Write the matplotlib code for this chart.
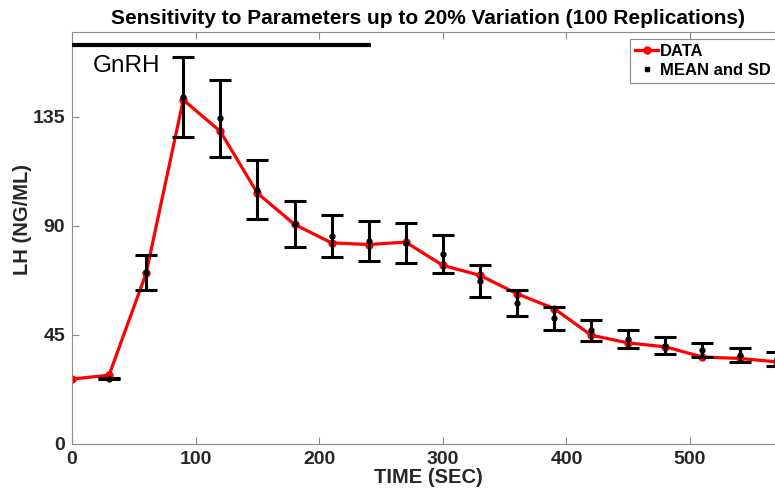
import numpy as np
import matplotlib
matplotlib.use('Agg')
import matplotlib.pyplot as plt
from matplotlib.lines import Line2D

plt.rcParams['font.family'] = ['Liberation Sans', 'DejaVu Sans']

# time points (sec)
t = [0, 30, 60, 90, 120, 150, 180, 210, 240, 270, 300, 330, 360, 390, 420, 450, 480, 510, 540, 570]
# observed LH data
lh_data = [26.8, 28.4, 70.5, 142.0, 129.0, 103.5, 90.6, 83.0, 82.3, 83.3, 73.7, 69.6, 62.0, 55.9,
           44.9, 41.7, 40.1, 35.9, 35.3, 33.9]
# model mean and sd (errorbars start at t=30)
t_mean = t[1:]
lh_mean = [27.0, 70.8, 143.1, 134.4, 105.0, 90.8, 85.8, 83.8, 82.9, 78.5, 67.3, 58.1, 51.8,
           46.9, 43.4, 40.6, 38.7, 36.7, 35.0]
lh_sd = [0.3, 7.1, 16.6, 15.9, 12.2, 9.6, 8.8, 8.3, 8.2, 7.8, 6.5, 5.4, 4.7,
         4.3, 3.8, 3.6, 3.0, 2.8, 2.9]

gnrh_span = [0, 242]
gnrh_level = 164.6

fig = plt.figure(figsize=(7.75, 4.95), dpi=100)
ax = fig.add_axes([72/775, 51/495, 712/775, 412/495])

ax.plot(t, lh_data, '-', color='#ff0000', lw=2.3, marker='.', ms=10, zorder=2)
ax.errorbar(t_mean, lh_mean, yerr=lh_sd, fmt='.', color='black', ms=7, ecolor='black',
            elinewidth=2.2, capsize=8, capthick=2.2, zorder=3)

ax.plot(gnrh_span, [gnrh_level, gnrh_level], color='black', lw=3, solid_capstyle='butt',
        clip_on=False, zorder=4)
ax.text(17, 153.7, 'GnRH', fontsize=17.5, color='black', ha='left', va='baseline')

ax.set_xlim(0, 576)
ax.set_ylim(0, 170)
ax.set_xticks([0, 100, 200, 300, 400, 500])
ax.set_yticks([0, 45, 90, 135])
ax.tick_params(direction='in', length=5, width=0.8, top=True, right=True,
               color='#8c8c8c', labelsize=14, labelcolor='#262626', pad=5)
for lab in ax.get_xticklabels() + ax.get_yticklabels():
    lab.set_fontweight('bold')
for sp in ax.spines.values():
    sp.set_color('#8c8c8c')
    sp.set_linewidth(0.8)

ax.set_xlabel('TIME (SEC)', fontsize=14.5, fontweight='bold', color='#262626', labelpad=0)
ax.set_ylabel('LH (NG/ML)', fontsize=14.5, fontweight='bold', color='#262626')
ax.yaxis.set_label_coords(-0.056, 0.544)
ax.set_title('Sensitivity to Parameters up to 20% Variation (100 Replications)',
             fontsize=15, fontweight='bold', pad=6)

handles = [Line2D([], [], color='#ff0000', lw=2.3, marker='.', ms=10),
           Line2D([], [], color='black', ls='none', marker='s', ms=3)]
leg = ax.legend(handles, ['DATA', 'MEAN and SD'], loc='upper left',
                bbox_to_anchor=(630/775, 1 - 39/495), bbox_transform=fig.transFigure,
                prop={'weight': 'bold', 'size': 12}, fancybox=False, framealpha=1,
                handlelength=1.4, handletextpad=0.1, borderpad=0.3, labelspacing=0.25,
                borderaxespad=0)
leg.get_frame().set_edgecolor('#8c8c8c')
leg.get_frame().set_linewidth(0.8)

fig.savefig('out.png', dpi=100)
